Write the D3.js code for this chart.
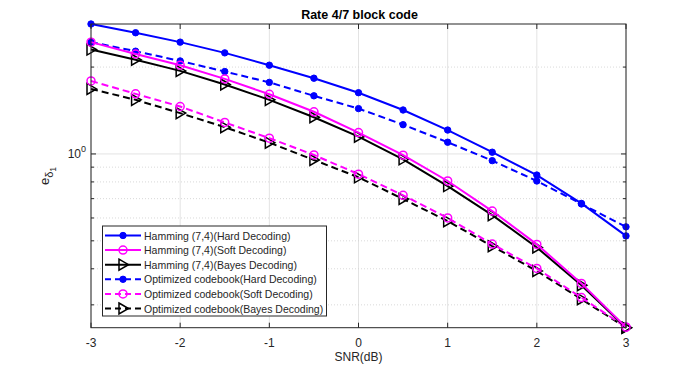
<!DOCTYPE html>
<html>
<head>
<meta charset="utf-8">
<script src="https://cdn.jsdelivr.net/npm/d3@7"></script>
<style>
body { margin: 0; background: #fff; }
svg text { font-family: "Liberation Sans", Arial, sans-serif; fill: #262626; }
</style>
</head>
<body>
<div id="chart"></div>
<script>
var snr = [-3,-2.5,-2,-1.5,-1,-0.5,0,0.5,1,1.5,2,2.5,3]
var hamHard  = [2.82,2.63,2.44,2.24,2.03,1.83,1.63,1.42,1.21,1.014,0.845,0.674,0.520]
var hamSoft  = [2.44,2.22,2.03,1.82,1.61,1.40,1.186,0.99,0.806,0.634,0.486,0.356,0.251]
var hamBayes = [2.30,2.12,1.94,1.74,1.54,1.34,1.148,0.958,0.774,0.614,0.474,0.351,0.25]
var optHard  = [2.44,2.27,2.10,1.93,1.77,1.59,1.436,1.263,1.098,0.948,0.806,0.671,0.559]
var optSoft  = [1.79,1.615,1.46,1.286,1.134,0.992,0.851,0.719,0.60,0.487,0.401,0.318,0.251]
var optBayes = [1.68,1.54,1.385,1.238,1.094,0.953,0.830,0.698,0.585,0.479,0.393,0.314,0.25]

var xTicks = [-3,-2,-1,0,1,2,3]
var yMinor = [0.3,0.4,0.5,0.6,0.7,0.8,0.9,2]

var series = [
	{name:'Hamming (7,4)(Hard Decoding)',        v:hamHard,  color:'#0000ff', dash:null, mk:'dot'},
	{name:'Hamming (7,4)(Soft Decoding)',        v:hamSoft,  color:'#ff00ff', dash:null, mk:'circle'},
	{name:'Hamming (7,4)(Bayes Decoding)',       v:hamBayes, color:'#000000', dash:null, mk:'tri'},
	{name:'Optimized codebook(Hard Decoding)',   v:optHard,  color:'#0000ff', dash:'7,4', mk:'dot'},
	{name:'Optimized codebook(Soft Decoding)',   v:optSoft,  color:'#ff00ff', dash:'7,4', mk:'circle'},
	{name:'Optimized codebook(Bayes Decoding)',  v:optBayes, color:'#000000', dash:'7,4', mk:'tri'}
]

var W = 692, H = 366
var L = 91, R = 626, T = 24, B = 327.7

var svg = d3.select('#chart').append('svg')
	.attr('width', W).attr('height', H)

var x = d3.scaleLinear().domain([-3,3]).range([L,R])
var y = d3.scaleLog().domain([0.25,2.82]).range([B,T])

// grid
var grid = svg.append('g')
grid.selectAll('line.gx').data(xTicks).enter().append('line')
	.attr('x1',d=>x(d)).attr('x2',d=>x(d)).attr('y1',T).attr('y2',B)
	.style('stroke','#e3e3e3').style('stroke-width',1)
grid.append('line')
	.attr('x1',L).attr('x2',R).attr('y1',y(1)).attr('y2',y(1))
	.style('stroke','#e3e3e3').style('stroke-width',1)
grid.selectAll('line.gy').data(yMinor).enter().append('line')
	.attr('x1',L).attr('x2',R).attr('y1',d=>y(d)).attr('y2',d=>y(d))
	.style('stroke','#cfcfcf').style('stroke-width',0.8).style('stroke-dasharray','1,2')

// markers
function drawMarker(g, type, color, cx, cy){
	if (type === 'dot') {
		g.append('circle').attr('cx',cx).attr('cy',cy).attr('r',3.2)
		 .style('fill',color).style('stroke',color)
	} else if (type === 'circle') {
		g.append('circle').attr('cx',cx).attr('cy',cy).attr('r',4)
		 .style('fill','none').style('stroke',color).style('stroke-width',1.5)
	} else {
		g.append('path')
		 .attr('d','M'+(cx-4)+','+(cy-5.5)+'L'+(cx+5.5)+','+cy+'L'+(cx-4)+','+(cy+5.5)+'Z')
		 .style('fill','none').style('stroke',color).style('stroke-width',1.5)
	}
}

var line = d3.line().x((d,i)=>x(snr[i])).y(d=>y(d))
var plot = svg.append('g')
series.slice().reverse().forEach((s)=>{
	var g = plot.append('g')
	g.append('path').attr('d',line(s.v))
	 .style('fill','none').style('stroke',s.color).style('stroke-width',2)
	 .style('stroke-dasharray',s.dash)
	s.v.forEach((d,i)=>drawMarker(g, s.mk, s.color, x(snr[i]), y(d)))
})

// axes box + ticks
var ax = svg.append('g').style('stroke','#262626').style('stroke-width',1)
ax.append('rect').attr('x',L).attr('y',T).attr('width',R-L).attr('height',B-T).style('fill','none')
xTicks.forEach(t=>{
	ax.append('line').attr('x1',x(t)).attr('x2',x(t)).attr('y1',B).attr('y2',B-5)
	ax.append('line').attr('x1',x(t)).attr('x2',x(t)).attr('y1',T).attr('y2',T+5)
})
ax.append('line').attr('x1',L).attr('x2',L+5).attr('y1',y(1)).attr('y2',y(1))
ax.append('line').attr('x1',R).attr('x2',R-5).attr('y1',y(1)).attr('y2',y(1))
yMinor.forEach(t=>{
	ax.append('line').attr('x1',L).attr('x2',L+3).attr('y1',y(t)).attr('y2',y(t))
	ax.append('line').attr('x1',R).attr('x2',R-3).attr('y1',y(t)).attr('y2',y(t))
})

svg.selectAll('text.xt').data(xTicks).enter().append('text')
	.attr('x',d=>x(d)).attr('y',B+19)
	.attr('text-anchor','middle').style('font-size','12px')
	.text(d=>d)

var yt = svg.append('text').attr('x',L-5).attr('y',y(1)+4.5)
	.attr('text-anchor','end').style('font-size','12px')
yt.append('tspan').text('10')
yt.append('tspan').attr('dy',-6).style('font-size','9px').text('0')

svg.append('text').attr('x',(L+R)/2).attr('y',361)
	.attr('text-anchor','middle').style('font-size','12px').text('SNR(dB)')

var yl = svg.append('text').attr('transform','translate(49,176) rotate(-90)')
	.attr('text-anchor','middle').style('font-size','13px')
yl.append('tspan').text('e')
yl.append('tspan').attr('dy',4).style('font-size','11px').text('δ')
yl.append('tspan').attr('dy',3).style('font-size','8.5px').text('1')

svg.append('text').attr('x',(L+R)/2+1).attr('y',19)
	.attr('text-anchor','middle').style('font-size','12.5px').style('font-weight','bold')
	.style('fill','#000').text('Rate 4/7 block code')

// legend
var lg = svg.append('g')
lg.append('rect').attr('x',102.5).attr('y',226).attr('width',224).attr('height',90)
	.style('fill','#fff').style('stroke','#262626').style('stroke-width',1)
series.forEach((s,i)=>{
	var cy = 235.5 + i*14.6
	var g = lg.append('g')
	g.append('line').attr('x1',105).attr('x2',141).attr('y1',cy).attr('y2',cy)
	 .style('stroke',s.color).style('stroke-width',2).style('stroke-dasharray',s.dash ? '6,4' : null)
	drawMarker(g, s.mk, s.color, 123, cy)
	g.append('text').attr('x',144).attr('y',cy+4).style('font-size','10.5px').text(s.name)
})
</script>
</body>
</html>
